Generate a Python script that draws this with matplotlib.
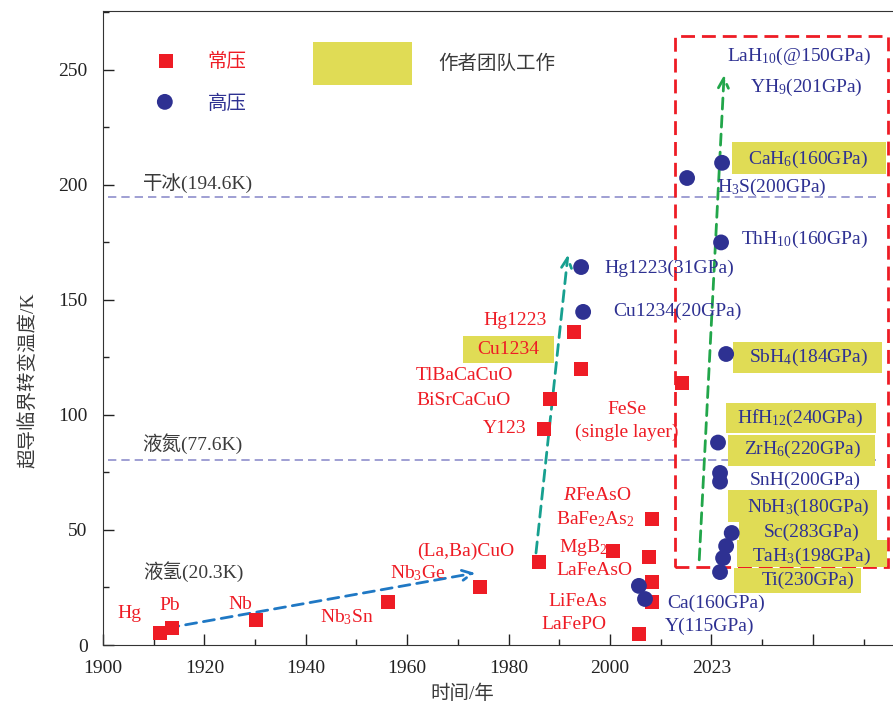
import matplotlib
matplotlib.use('Agg')
import matplotlib.pyplot as plt
from matplotlib.patches import Rectangle

plt.rcParams['font.family'] = ['Liberation Serif', 'Noto Sans CJK SC', 'DejaVu Sans']
plt.rcParams['mathtext.fontset'] = 'custom'
plt.rcParams['mathtext.rm'] = 'Liberation Serif'
plt.rcParams['mathtext.it'] = 'Liberation Serif:italic'

RED = '#ee1c25'
NAVY = '#2e3192'
YELLOW = '#e0dc55'
GREY = '#3a3a3a'

# ambient pressure superconductors (year, Tc in K)
amb_year = [1911.2, 1913.6, 1930.2, 1956.2, 1974.4, 1986.0, 1987.0, 1988.2,
            1994.3, 1992.9, 2014.2, 2008.3, 2000.6, 2007.7, 2008.3, 2008.3, 2005.7]
amb_tc = [5.2, 7.4, 10.9, 18.7, 25.2, 36.0, 93.9, 107.0,
          120.0, 136.0, 114.0, 54.8, 40.9, 38.3, 27.4, 18.7, 4.8]

# high pressure superconductors
hp_year = [1994.3, 1994.7, 2015.2, 2022.1, 2021.9, 2022.9, 2021.3, 2021.7,
           2021.7, 2024.0, 2022.9, 2022.3, 2021.7, 2005.7, 2006.9]
hp_tc = [164.3, 144.8, 203.0, 209.6, 175.0, 126.5, 88.0, 74.8,
         71.0, 48.7, 43.0, 37.8, 31.7, 25.7, 20.0]

# reference temperatures (dry ice, liquid nitrogen as drawn)
ref_lines = [194.6, 80.4]

# trend arrows: (start year, start Tc, end year, end Tc)
trend_arrows = [
    (1912.8, 7.4, 1973.4, 31.3, '#1f78c4'),
    (1985.4, 40.0, 1991.7, 169.6, '#17a090'),
    (2017.6, 37.0, 2022.5, 247.8, '#22a64a'),
]

amb_labels = ['Hg', 'Pb', 'Nb', 'Nb$_3$Sn', 'Nb$_3$Ge', '(La,Ba)CuO', 'Hg1223',
              'Cu1234', 'TlBaCaCuO', 'BiSrCaCuO', 'Y123', 'FeSe', '(single layer)',
              '$\\mathit{R}$FeAsO', 'BaFe$_2$As$_2$', 'MgB$_2$', 'LaFeAsO',
              'LiFeAs', 'LaFePO']
amb_label_pos = [(1905.3, 13.5), (1913.2, 17.0), (1927.0, 17.8), (1948.1, 12.2),
                 (1962.1, 31.3), (1971.6, 40.9), (1981.3, 140.9), (1979.9, 128.3),
                 (1971.2, 117.0), (1971.2, 106.1), (1979.3, 94.3), (2003.4, 102.2),
                 (2003.4, 92.6), (1997.4, 64.8), (1997.0, 54.8), (1994.7, 42.2),
                 (1997.0, 32.6), (1993.7, 19.1), (1992.9, 9.1)]

hp_labels = ['Hg1223(31GPa)', 'Cu1234(20GPa)', 'LaH$_{10}$(@150GPa)', 'YH$_9$(201GPa)',
             'CaH$_6$(160GPa)', 'H$_3$S(200GPa)', 'ThH$_{10}$(160GPa)', 'SbH$_4$(184GPa)',
             'HfH$_{12}$(240GPa)', 'ZrH$_6$(220GPa)', 'SnH(200GPa)', 'NbH$_3$(180GPa)',
             'Sc(283GPa)', 'TaH$_3$(198GPa)', 'Ti(230GPa)', 'Ca(160GPa)', 'Y(115GPa)']
hp_label_pos = [(2011.6, 163.9), (2013.2, 145.2), (2037.3, 255.7), (2038.7, 242.2),
                (2039.1, 210.9), (2031.8, 198.7), (2038.3, 176.1), (2039.1, 125.2),
                (2037.5, 98.3), (2037.9, 84.8), (2038.5, 71.7), (2039.1, 60.0),
                (2039.8, 49.1), (2039.8, 38.7), (2039.1, 28.3), (2020.9, 18.3),
                (2019.7, 8.3)]

# highlighted (author team) entries: x0, y0, width, height
highlight_boxes = [(1971.0, 122.6, 18.0, 11.7), (2024.1, 204.8, 30.3, 13.9),
                   (2024.3, 118.3, 29.3, 13.4), (2022.9, 92.2, 29.6, 13.0),
                   (2023.3, 77.8, 29.0, 13.5), (2023.3, 53.5, 29.4, 13.9),
                   (2025.4, 45.7, 27.2, 7.8), (2025.0, 33.9, 29.6, 11.8),
                   (2024.5, 22.6, 25.0, 10.9)]

fig = plt.figure(figsize=(8.93, 7.05), dpi=100)
ax = fig.add_axes([0.1153, 0.0851, 0.8835, 0.8993])
ax.set_xlim(1900, 2055.6)
ax.set_ylim(0, 275.6)

for x0, y0, w, h in highlight_boxes:
    ax.add_patch(Rectangle((x0, y0), w, h, facecolor=YELLOW, edgecolor='none', zorder=2))

for t in ref_lines:
    ax.plot([1901, 2052.5], [t, t], ls=(0, (5, 3)), color='#8f8fcc', lw=1.2, zorder=1)

# red dashed frame around recent hydrides
ax.add_patch(Rectangle((2012.8, 33.9), 42.0, 230.9, fill=False, edgecolor=RED,
                       lw=2, ls=(0, (5, 2.5)), zorder=1))

for x0, y0, x1, y1, c in trend_arrows:
    ax.annotate('', xy=(x1, y1), xytext=(x0, y0),
                arrowprops=dict(arrowstyle='->', color=c, lw=2, ls=(0, (4, 2.5)),
                                mutation_scale=18, shrinkA=0, shrinkB=0), zorder=3)

ax.scatter(amb_year, amb_tc, marker='s', s=95, color=RED, edgecolors='none', zorder=4)
ax.scatter(hp_year, hp_tc, marker='o', s=130, color=NAVY, edgecolors='none', zorder=4)

for txt, (x, y) in zip(amb_labels, amb_label_pos):
    ax.text(x, y, txt, color=RED, fontsize=14, ha='center', va='center', zorder=5)
for txt, (x, y) in zip(hp_labels, hp_label_pos):
    ax.text(x, y, txt, color=NAVY, fontsize=14, ha='center', va='center', zorder=5)

ax.text(1907.9, 200.9, '干冰(194.6K)', color=GREY, fontsize=14, va='center')
ax.text(1907.7, 87.4, '液氮(77.6K)', color=GREY, fontsize=14, va='center')
ax.text(1907.9, 31.7, '液氢(20.3K)', color=GREY, fontsize=14, va='center')

# legend drawn by hand
ax.scatter([1912.4], [253.9], marker='s', s=95, color=RED, edgecolors='none')
ax.scatter([1912.2], [236.1], marker='o', s=130, color=NAVY, edgecolors='none')
ax.text(1924.5, 253.5, '常压', color=RED, fontsize=14, va='center', ha='center')
ax.text(1924.5, 235.2, '高压', color=NAVY, fontsize=14, va='center', ha='center')
ax.add_patch(Rectangle((1941.4, 243.5), 19.5, 18.7, facecolor=YELLOW, edgecolor='none'))
ax.text(1977.7, 252.6, '作者团队工作', color=GREY, fontsize=14, va='center', ha='center')

ax.set_xticks([1900, 1920, 1940, 1960, 1980, 2000, 2020, 2040])
ax.set_xticklabels(['1900', '1920', '1940', '1960', '1980', '2000', '2023', ''])
ax.set_xticks(range(1910, 2060, 20), minor=True)
ax.set_yticks([0, 50, 100, 150, 200, 250])
ax.set_yticks([25, 75, 125, 175, 225, 275], minor=True)
ax.tick_params(which='both', direction='in', labelsize=14, colors='#222222')
ax.tick_params(which='major', length=8, width=1)
ax.tick_params(which='minor', length=4, width=1)
ax.tick_params(axis='x', which='major', pad=11)
ax.tick_params(axis='y', which='major', pad=11)
ax.spines['right'].set_visible(False)
for s in ['left', 'bottom', 'top']:
    ax.spines[s].set_color('#333333')

ax.text(-0.095, 0.418, '超导临界转变温度/K', transform=ax.transAxes, rotation=90,
        ha='center', va='center', fontsize=14, color=GREY)
ax.text(0.456, -0.077, '时间/年', transform=ax.transAxes, ha='center', va='center',
        fontsize=14, color=GREY)

fig.savefig('out.png', dpi=100)
